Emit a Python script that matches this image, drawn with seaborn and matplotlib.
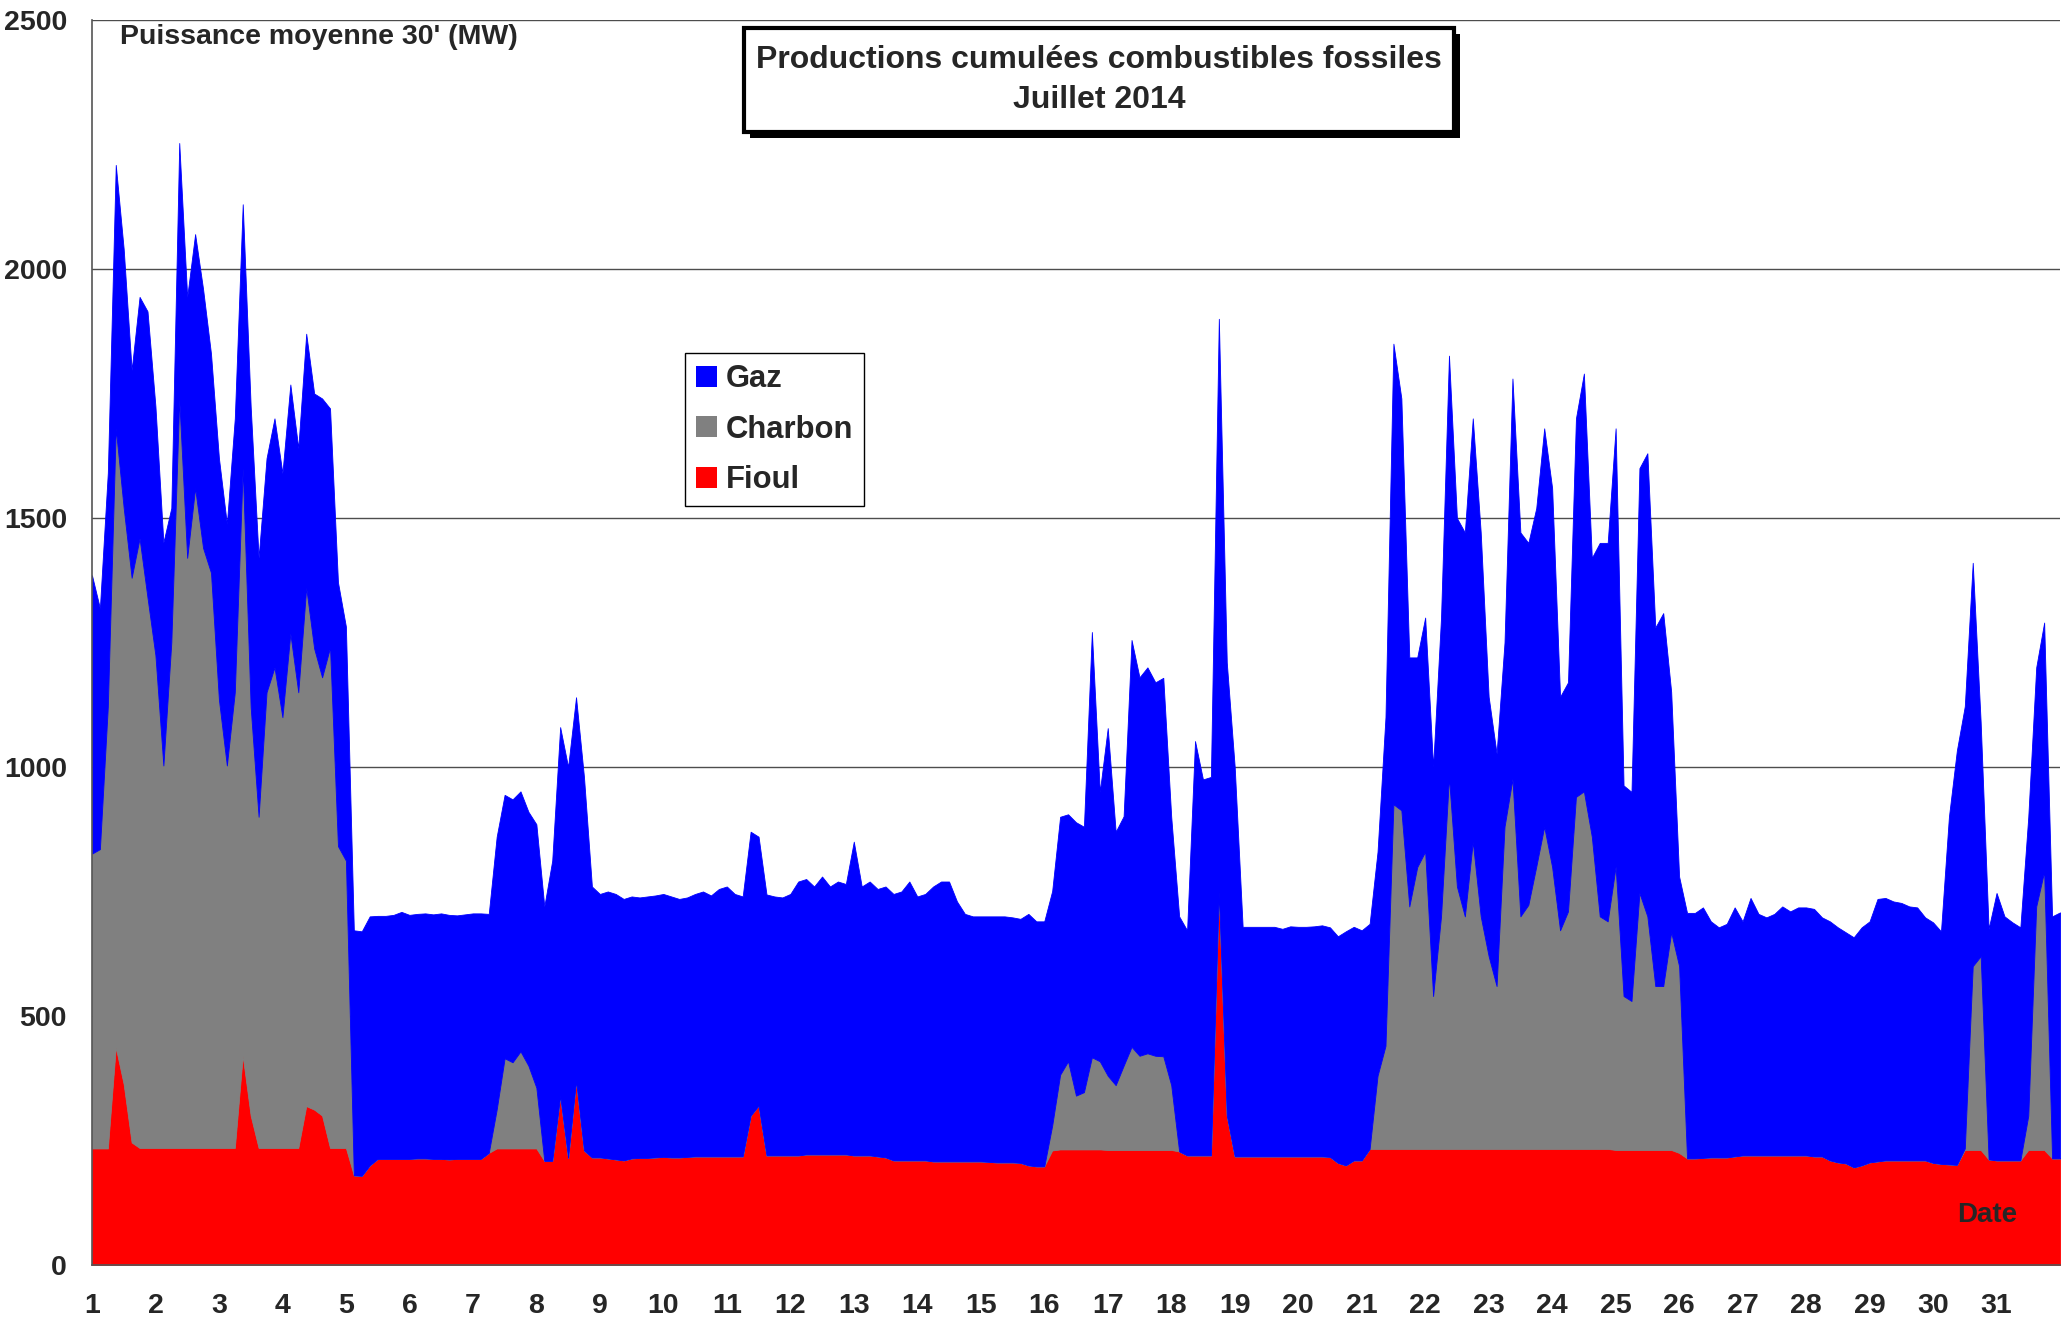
import numpy as np
import matplotlib
matplotlib.use("Agg")
import matplotlib.pyplot as plt
from matplotlib.patches import Patch, Rectangle
from matplotlib.ticker import MultipleLocator
import seaborn as sns

sns.set_style("white")
plt.rcParams["font.family"] = ["Liberation Sans", "DejaVu Sans"]
plt.rcParams["font.weight"] = "bold"

# puissance moyenne (MW), un point toutes les 3 h, du 1er au 31 juillet (+ fin du 31)
fioul = [
    234, 234, 234, 437, 363, 246, 235, 235,  # 1
    235, 235, 235, 235, 235, 235, 235, 235,  # 2
    235, 235, 235, 420, 300, 235, 235, 235,  # 3
    235, 235, 235, 319, 312, 300, 235, 235,  # 4
    235, 180, 179, 200, 213, 213, 213, 213,  # 5
    213, 214, 214, 213, 213, 212, 213, 213,  # 6
    213, 213, 225, 234, 234, 234, 234, 234,  # 7
    234, 209, 209, 340, 215, 370, 230, 216,  # 8
    216, 214, 212, 210, 214, 215, 215, 216,  # 9
    217, 216, 216, 217, 218, 218, 218, 218,  # 10
    218, 218, 218, 300, 320, 220, 220, 220,  # 11
    220, 220, 222, 222, 222, 222, 222, 222,  # 12
    220, 220, 220, 218, 216, 210, 210, 210,  # 13
    210, 210, 208, 208, 208, 208, 208, 208,  # 14
    208, 207, 206, 206, 206, 205, 200, 198,  # 15
    198, 230, 232, 232, 232, 232, 232, 232,  # 16
    231, 231, 231, 231, 231, 231, 231, 231,  # 17
    231, 228, 220, 220, 220, 220, 750, 300,  # 18
    218, 218, 218, 218, 218, 218, 218, 218,  # 19
    218, 218, 218, 218, 217, 205, 200, 210,  # 20
    210, 233, 233, 233, 233, 233, 233, 233,  # 21
    233, 233, 233, 233, 233, 233, 233, 233,  # 22
    233, 233, 233, 233, 233, 233, 233, 233,  # 23
    233, 233, 233, 233, 233, 233, 233, 233,  # 24
    231, 231, 231, 231, 231, 231, 231, 231,  # 25
    225, 214, 214, 215, 216, 216, 216, 218,  # 26
    220, 220, 220, 220, 220, 220, 220, 220,  # 27
    220, 218, 218, 210, 206, 204, 196, 200,  # 28
    206, 208, 210, 210, 210, 210, 210, 210,  # 29
    205, 203, 202, 201, 231, 231, 231, 212,  # 30
    210, 210, 210, 210, 231, 231, 231, 214,  # 31
    214,
]

charbon = [
    592, 601, 887, 1243, 1157, 1134, 1224, 1105,  # 1
    989, 768, 1015, 1503, 1185, 1325, 1205, 1155,  # 2
    900, 768, 915, 1180, 820, 665, 915, 965,  # 3
    865, 1033, 915, 1041, 926, 880, 1005, 606,  # 4
    577, 0, 0, 0, 0, 0, 0, 0,  # 5
    0, 0, 0, 0, 0, 0, 0, 0,  # 6
    0, 0, 0, 78, 181, 173, 195, 166,  # 7
    122, 0, 0, 0, 0, 0, 0, 0,  # 8
    0, 0, 0, 0, 0, 0, 0, 0,  # 9
    0, 0, 0, 0, 0, 0, 0, 0,  # 10
    0, 0, 0, 0, 0, 0, 0, 0,  # 11
    0, 0, 0, 0, 0, 0, 0, 0,  # 12
    0, 0, 0, 0, 0, 0, 0, 0,  # 13
    0, 0, 0, 0, 0, 0, 0, 0,  # 14
    0, 0, 0, 0, 0, 0, 0, 0,  # 15
    0, 50, 150, 177, 108, 115, 185, 177,  # 16
    149, 130, 169, 207, 189, 194, 189, 188,  # 17
    130, 0, 0, 0, 0, 0, 0, 0,  # 18
    0, 0, 0, 0, 0, 0, 0, 0,  # 19
    0, 0, 0, 0, 0, 0, 0, 0,  # 20
    0, 0, 147, 207, 692, 680, 487, 566,  # 21
    597, 307, 467, 747, 527, 467, 617, 467,  # 22
    387, 327, 647, 743, 467, 490, 567, 647,  # 23
    566, 439, 477, 707, 718, 627, 467, 457,  # 24
    569, 309, 299, 516, 469, 329, 329, 437,  # 25
    375, 0, 0, 0, 0, 0, 0, 0,  # 26
    0, 0, 0, 0, 0, 0, 0, 0,  # 27
    0, 0, 0, 0, 0, 0, 0, 0,  # 28
    0, 0, 0, 0, 0, 0, 0, 0,  # 29
    0, 0, 0, 0, 3, 369, 389, 0,  # 30
    0, 0, 0, 0, 69, 489, 559, 0,  # 31
    0,
]

gaz = [
    559, 484, 470, 529, 520, 417, 485, 575,  # 1
    500, 448, 270, 515, 524, 510, 520, 440,  # 2
    485, 485, 550, 530, 604, 520, 470, 500,  # 3
    490, 500, 490, 510, 512, 560, 480, 530,  # 4
    470, 492, 491, 500, 488, 488, 490, 496,  # 5
    490, 491, 492, 491, 493, 491, 489, 491,  # 6
    493, 493, 480, 548, 529, 528, 522, 510,  # 7
    529, 511, 603, 740, 785, 770, 750, 544,  # 8
    529, 536, 533, 525, 526, 523, 525, 526,  # 9
    528, 524, 519, 521, 527, 532, 524, 537,  # 10
    542, 527, 522, 570, 540, 524, 520, 518,  # 11
    525, 550, 553, 538, 558, 538, 548, 543,  # 12
    630, 540, 550, 537, 544, 535, 540, 560,  # 13
    530, 535, 552, 562, 562, 522, 497, 492,  # 14
    492, 493, 494, 494, 492, 490, 505, 492,  # 15
    492, 471, 518, 496, 549, 533, 854, 541,  # 16
    698, 509, 501, 817, 760, 775, 750, 760,  # 17
    539, 472, 452, 832, 755, 760, 1150, 910,  # 18
    782, 461, 461, 461, 461, 461, 457, 462,  # 19
    461, 461, 462, 464, 461, 455, 470, 469,  # 20
    462, 452, 450, 660, 925, 827, 500, 421,  # 21
    470, 460, 600, 846, 740, 771, 850, 771,  # 22
    521, 467, 370, 804, 771, 727, 720, 800,  # 23
    761, 469, 460, 760, 839, 560, 750, 760,  # 24
    880, 423, 420, 853, 930, 720, 749, 483,  # 25
    180, 493, 493, 503, 474, 462, 469, 500,  # 26
    470, 517, 485, 478, 485, 500, 490, 498,  # 27
    498, 497, 480, 480, 472, 464, 462, 478,  # 28
    484, 527, 527, 520, 517, 510, 508, 488,  # 29
    483, 467, 698, 832, 888, 810, 470, 463,  # 30
    537, 490, 478, 468, 600, 480, 500, 486,  # 31
    494,
]

jours = 1 + np.arange(len(gaz)) / 8

couleurs = {"Gaz": "#0000ff", "Charbon": "#808080", "Fioul": "#ff0000"}

fig = plt.figure(figsize=(20.71, 13.24), dpi=100)
ax = fig.add_axes([0.0444, 0.0446, 0.9503, 0.9403])

polys = ax.stackplot(jours, fioul, charbon, gaz,
                     colors=[couleurs["Fioul"], couleurs["Charbon"], couleurs["Gaz"]],
                     linewidth=0.6)
for p, c in zip(polys, [couleurs["Fioul"], couleurs["Charbon"], couleurs["Gaz"]]):
    p.set_edgecolor(c)

ax.set_xlim(1, 32)
ax.set_ylim(0, 2500)
ax.set_yticks(range(0, 2501, 500))
ax.set_xticks(range(1, 32))
ax.xaxis.set_minor_locator(MultipleLocator(0.5))
ax.yaxis.grid(True, color="#4d4d4d", lw=1.0)
ax.set_axisbelow(True)

ax.tick_params(axis="both", which="both", direction="out", length=9, width=1, color="#555555")
ax.tick_params(axis="x", which="major", labelsize=20.5, pad=11)
ax.tick_params(axis="y", labelsize=20.5, pad=9)
for lab in ax.get_xticklabels() + ax.get_yticklabels():
    lab.set_fontweight("bold")

ax.spines["top"].set_visible(False)
ax.spines["right"].set_visible(False)
for s in ["left", "bottom"]:
    ax.spines[s].set_color("#555555")
    ax.spines[s].set_linewidth(1.2)

ax.text(0.0142, 0.986, "Puissance moyenne 30' (MW)", transform=ax.transAxes,
        ha="left", va="center", fontsize=20.5, fontweight="bold")
ax.text(0.963, 0.040, "Date", transform=ax.transAxes,
        ha="center", va="center", fontsize=20, fontweight="bold")

# legende
handles = [Patch(facecolor=couleurs[k], edgecolor="none", label=k) for k in ["Gaz", "Charbon", "Fioul"]]
leg = ax.legend(handles=handles, loc="upper left", bbox_to_anchor=(0.3013, 0.7325),
                prop={"size": 22.3, "weight": "bold"}, frameon=True, fancybox=False,
                edgecolor="black", framealpha=1, handlelength=0.68, handleheight=0.68,
                handletextpad=0.28, labelspacing=0.66, borderpad=0.36, borderaxespad=0)
leg.get_frame().set_linewidth(1.0)

# titre encadre avec ombre
x0, y0, w, h = 0.3592, 0.9003, 0.3428, 0.0785
fig.add_artist(Rectangle((x0 + 0.0029, y0 - 0.0045), w, h, transform=fig.transFigure,
                         facecolor="black", edgecolor="none"))
fig.add_artist(Rectangle((x0, y0), w, h, transform=fig.transFigure,
                         facecolor="white", edgecolor="black", lw=3))
fig.text(x0 + w / 2, y0 + h / 2, "Productions cumulées combustibles fossiles\nJuillet 2014",
         ha="center", va="center", fontsize=23, fontweight="bold", linespacing=1.42)

fig.savefig("out.png", dpi=100)
